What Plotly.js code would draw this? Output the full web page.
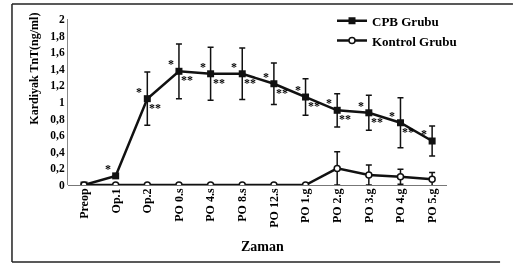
<!DOCTYPE html>
<html><head><meta charset="utf-8">
<script src="https://cdn.plot.ly/plotly-3.0.1.min.js"></script>
<style>html,body{margin:0;padding:0;background:#fff;}#chart{width:513px;height:268px;filter:grayscale(100%);}</style>
</head><body><div id="chart"></div>
<script>
var categories = ["Preop","Op.1","Op.2","PO 0.s","PO 4.s","PO 8.s","PO 12.s","PO 1.g","PO 2.g","PO 3.g","PO 4.g","PO 5.g"];
var cpbValues = [0, 0.11, 1.04, 1.37, 1.34, 1.34, 1.22, 1.06, 0.90, 0.87, 0.75, 0.53];
var cpbErrors = [0, 0, 0.32, 0.33, 0.32, 0.31, 0.25, 0.22, 0.20, 0.21, 0.30, 0.18];
var kontrolValues = [0, 0, 0, 0, 0, 0, 0, 0, 0.20, 0.12, 0.10, 0.07];
var kontrolErrors = [0, 0, 0, 0, 0, 0, 0, 0, 0.20, 0.12, 0.09, 0.08];
var singleStar = [false, true, true, true, true, true, true, true, true, true, true, true];
var doubleStar = [false, false, true, true, true, true, true, true, true, true, true, false];
var yTickVals = [0, 0.2, 0.4, 0.6, 0.8, 1, 1.2, 1.4, 1.6, 1.8, 2];
var yTickText = ["0","0,2","0,4","0,6","0,8","1","1,2","1,4","1,6","1,8","2"];

var FONT = "Liberation Serif, Times New Roman, serif";
var INK = "#000";

var traces = [
  {
    x: categories, y: cpbValues, name: "<b>CPB Grubu</b>", type: "scatter", mode: "lines+markers",
    line: {color: "#111", width: 2.5},
    marker: {symbol: "square", size: 7, color: "#111"},
    error_y: {type: "data", array: cpbErrors, visible: true, color: "#111", thickness: 1.5, width: 3}
  },
  {
    x: categories, y: kontrolValues, name: "<b>Kontrol Grubu</b>", type: "scatter", mode: "lines+markers",
    line: {color: "#111", width: 2.5},
    marker: {symbol: "circle", size: 6, color: "#fff", line: {color: "#111", width: 1.5}},
    error_y: {type: "data", array: kontrolErrors, visible: true, color: "#111", thickness: 1.5, width: 3}
  }
];

var annotations = [];
for (var i = 0; i < categories.length; i++) {
  if (singleStar[i]) {
    annotations.push({x: categories[i], y: cpbValues[i], xref: "x", yref: "y", text: "<b>*</b>",
      showarrow: false, xshift: -8, yshift: 7, font: {family: FONT, size: 12, color: INK}});
  }
  if (doubleStar[i]) {
    annotations.push({x: categories[i], y: cpbValues[i], xref: "x", yref: "y", text: "<b>**</b>",
      showarrow: false, xshift: 8, yshift: -9, font: {family: FONT, size: 12, color: INK}});
  }
}
annotations.push({xref: "paper", yref: "paper", x: 0.512, y: -0.37, text: "<b>Zaman</b>",
  showarrow: false, xanchor: "center", yanchor: "middle", font: {family: FONT, size: 14, color: INK}});
annotations.push({xref: "paper", yref: "paper", x: -0.09, y: 0.70, text: "<b>Kardiyak TnT(ng/ml)</b>",
  showarrow: false, textangle: -90, xanchor: "center", yanchor: "middle", font: {family: FONT, size: 12, color: INK}});

var layout = {
  width: 513, height: 268,
  margin: {l: 68, r: 66, t: 19, b: 83, autoexpand: false},
  paper_bgcolor: "#fff", plot_bgcolor: "#fff",
  font: {family: FONT, color: INK},
  showlegend: true,
  legend: {x: 0.6966, y: 1.08, xanchor: "left", yanchor: "top", bgcolor: "rgba(0,0,0,0)",
    font: {family: FONT, size: 13, color: INK}, itemwidth: 30, tracegroupgap: 0},
  xaxis: {
    type: "category", range: [-0.506, 11.47], showgrid: false, zeroline: false,
    showline: false, ticks: "", tickangle: -90, automargin: false,
    tickfont: {family: FONT, size: 12, color: INK},
    tickvals: categories, ticktext: categories.map(function(c){return "<b>"+c+"</b>";})
  },
  yaxis: {
    range: [0, 2], showgrid: false, zeroline: true, zerolinecolor: "#777", zerolinewidth: 1,
    showline: true, linecolor: "#888", linewidth: 1, ticks: "", automargin: false,
    tickvals: yTickVals, ticktext: yTickText.map(function(t){return "<b>"+t+"</b>";}),
    tickfont: {family: FONT, size: 11.5, color: INK}
  },
  annotations: annotations,
  shapes: [
    {type: "line", xref: "paper", yref: "paper", x0: -0.1478, x1: 1.174, y0: 1.0904, y1: 1.0904, line: {color: "#222", width: 1.5}},
    {type: "line", xref: "paper", yref: "paper", x0: -0.1478, x1: -0.1478, y0: 1.0904, y1: -0.4639, line: {color: "#222", width: 1.5}},
    {type: "line", xref: "paper", yref: "paper", x0: -0.1478, x1: 1.14, y0: -0.4639, y1: -0.4639, line: {color: "#222", width: 1.5}}
  ]
};

Plotly.newPlot("chart", traces, layout, {displayModeBar: false, staticPlot: true});
</script>
</body></html>
